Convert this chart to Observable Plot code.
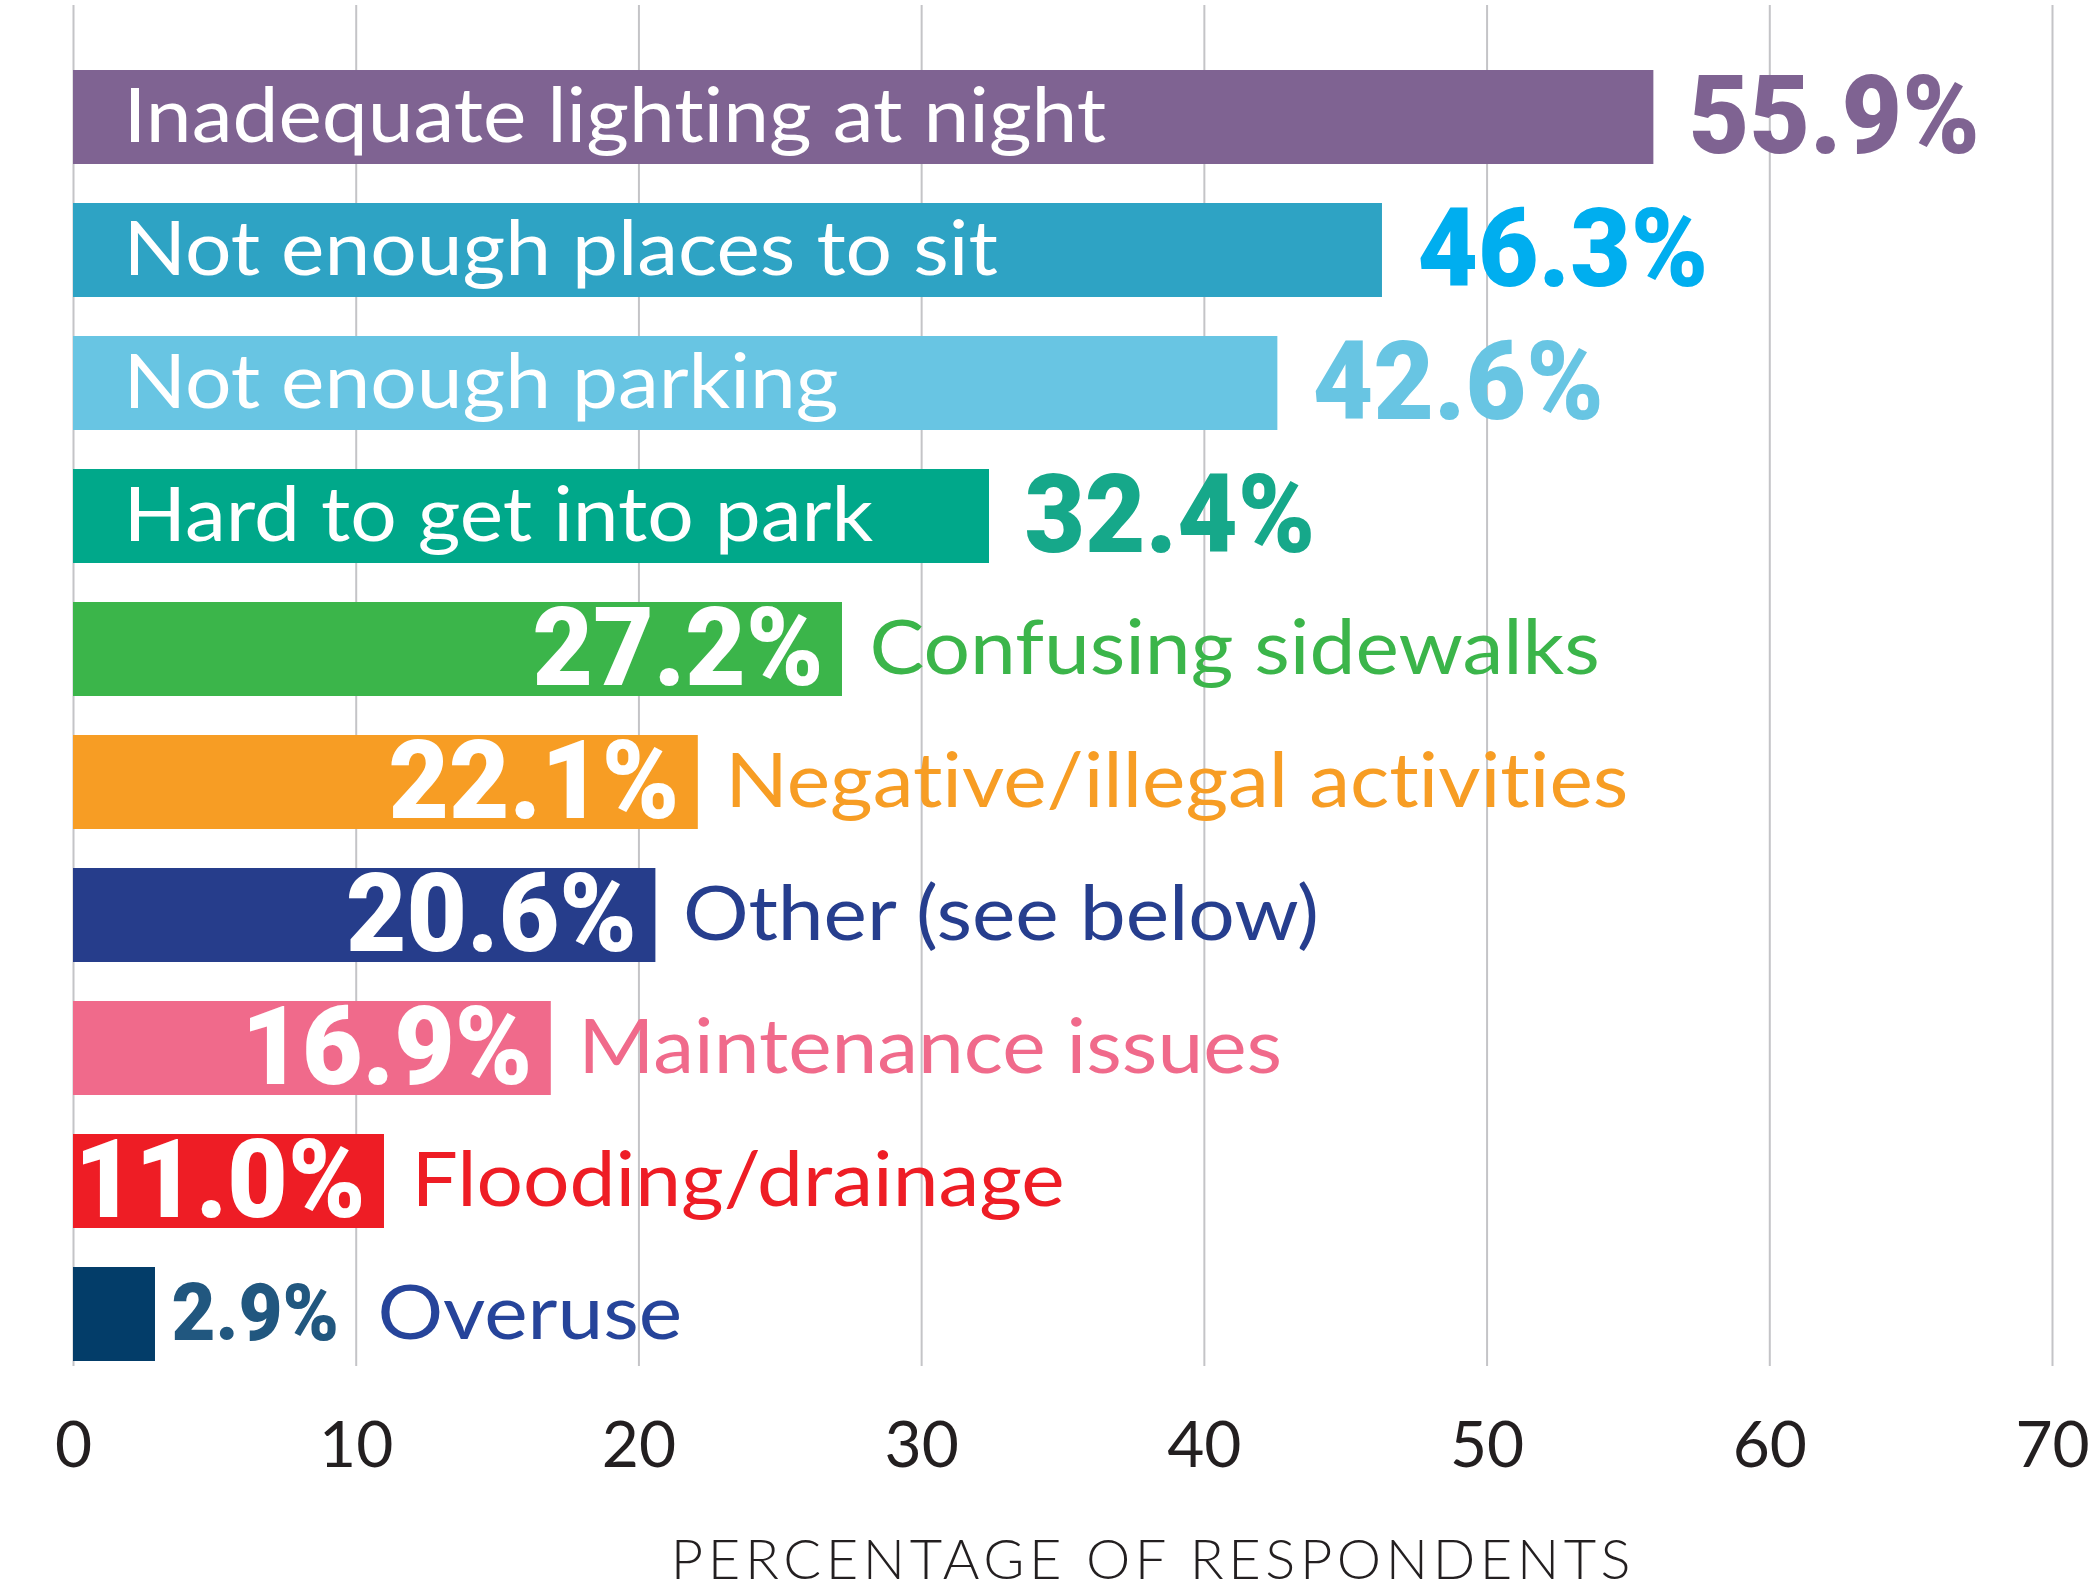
<!DOCTYPE html>
<html><head><meta charset="utf-8">
<script src="https://cdn.jsdelivr.net/npm/d3@7"></script>
<script src="https://cdn.jsdelivr.net/npm/@observablehq/plot@0.6"></script>
<style>
body{margin:0;background:#fff}
svg{display:block}
svg text{font-variant-ligatures:none;font-feature-settings:"liga" 0,"clig" 0}
</style>
</head><body><div id="chart"></div>
<script>
const categories = [
  "Inadequate lighting at night",
  "Not enough places to sit",
  "Not enough parking",
  "Hard to get into park",
  "Confusing sidewalks",
  "Negative/illegal activities",
  "Other (see below)",
  "Maintenance issues",
  "Flooding/drainage",
  "Overuse"
];
const values = [55.9, 46.3, 42.6, 32.4, 27.2, 22.1, 20.6, 16.9, 11.0, 2.9];
const tickValues = [0, 10, 20, 30, 40, 50, 60, 70];
const axisTitle = "PERCENTAGE OF RESPONDENTS";
const barColors = ["#7F6392","#2EA3C4","#68C5E3","#00A88A","#3BB54A","#F79D24","#263D8B","#F06A8B","#EE1D25","#033D69"];
const valueColors = ["#7F6392","#00AEEF","#68C5E3","#16A88A","#FFFFFF","#FFFFFF","#FFFFFF","#FFFFFF","#FFFFFF","#21577F"];
const nameColors = ["#FFFFFF","#FFFFFF","#FFFFFF","#FFFFFF","#3BB54A","#F79D24","#263E8E","#F06A8B","#EE1D25","#26449A"];

const rows = categories.map((c, i) => ({
  category: c, value: values[i], bar: barColors[i],
  valueColor: valueColors[i], nameColor: nameColors[i], rank: i
}));
const topRows = rows.filter(d => d.rank < 4);
const midRows = rows.filter(d => d.rank >= 4 && d.rank < 9);
const lastRows = rows.filter(d => d.rank === 9);
const fmt = d => d3.format(".1f")(d.value) + "%";

const nameFont = "Lato, 'Open Sans', sans-serif";
const valueFont = "Roboto, 'DejaVu Sans', sans-serif";
const nameSize = 76, valueSize = 110, smallValueSize = 80;
const condense = 0.95, widen = 1.08;

const chart = Plot.plot({
  width: 2094,
  height: 1591,
  marginTop: 5,
  marginBottom: 225,
  marginLeft: 73,
  marginRight: 42,
  style: {fontFamily: nameFont, color: "#231F20", background: "#fff"},
  x: {domain: [0, 70]},
  y: {domain: categories, range: [65, 1366], paddingInner: 0.29, paddingOuter: 0, axis: null},
  marks: [
    Plot.gridX(tickValues, {stroke: "#C4C4C7", strokeOpacity: 1, strokeWidth: 2}),
    Plot.barX(rows, {x: "value", y: "category", fill: "bar"}),
    // [0] top four names, inside bars
    Plot.text(topRows, {x: 0, y: "category", text: "category", textAnchor: "start", dx: 50,
      fill: "nameColor", fontSize: nameSize, fontFamily: nameFont, lineAnchor: "middle"}),
    // [1] top four values, outside
    Plot.text(topRows, {x: "value", y: "category", text: fmt, textAnchor: "start", dx: 35,
      fill: "valueColor", fontSize: valueSize, fontFamily: valueFont, fontWeight: 900, lineAnchor: "middle"}),
    // [2] middle values, inside bars
    Plot.text(midRows, {x: "value", y: "category", text: fmt, textAnchor: "end", dx: -19,
      fill: "valueColor", fontSize: valueSize, fontFamily: valueFont, fontWeight: 900, lineAnchor: "middle"}),
    // [3] middle names, outside
    Plot.text(midRows, {x: "value", y: "category", text: "category", textAnchor: "start", dx: 27,
      fill: "nameColor", fontSize: nameSize, fontFamily: nameFont, lineAnchor: "middle"}),
    // [4] last value, outside
    Plot.text(lastRows, {x: "value", y: "category", text: fmt, textAnchor: "start", dx: 16,
      fill: "valueColor", fontSize: smallValueSize, fontFamily: valueFont, fontWeight: 900, lineAnchor: "middle"}),
    // [5] last name, outside after value
    Plot.text(lastRows, {x: "value", y: "category", text: "category", textAnchor: "start", dx: 222,
      fill: "nameColor", fontSize: nameSize, fontFamily: nameFont, lineAnchor: "middle"}),
    Plot.axisX({ticks: tickValues, tickSize: 0, tickPadding: 55, fontSize: 64, label: null, fill: "#231F20"}),
    // [6] axis title
    Plot.text([axisTitle], {frameAnchor: "bottom", text: d => d, dx: 90, dy: 195, fontSize: 56,
      fill: "#231F20", lineAnchor: "middle", fontWeight: 300})
  ]
});
document.getElementById("chart").appendChild(chart);
const root = d3.select(chart);
const textGroups = root.selectAll('g[aria-label="text"]').nodes();
if (textGroups[6]) d3.select(textGroups[6]).selectAll("text").style("letter-spacing", "4.6px");

// stretch text horizontally around its anchor point; the anchor comes from the chart's own scales
// (the group's transform already carries dx and the half-bandwidth offset; the em-based y attribute is kept)
try {
  const xs = chart.scale("x"), ys = chart.scale("y");
  const stretch = (group, subset, xOf, sx) => {
    if (!group) return;
    d3.select(group).selectAll("text").each(function(d, i) {
      const row = subset[typeof d === "number" ? d : i];
      if (!row) return;
      const px = xs.apply(xOf(row)), py = ys.apply(row.category);
      if (!isFinite(px) || !isFinite(py)) return;
      this.setAttribute("transform", `translate(${px},${py}) scale(${sx},1)`);
    });
  };
  stretch(textGroups[0], topRows, () => 0, widen);
  stretch(textGroups[1], topRows, r => r.value, condense);
  stretch(textGroups[2], midRows, r => r.value, condense);
  stretch(textGroups[3], midRows, r => r.value, widen);
  stretch(textGroups[4], lastRows, r => r.value, condense);
  stretch(textGroups[5], lastRows, r => r.value, widen);
} catch (e) { console.error(e); }
</script>
</body></html>
